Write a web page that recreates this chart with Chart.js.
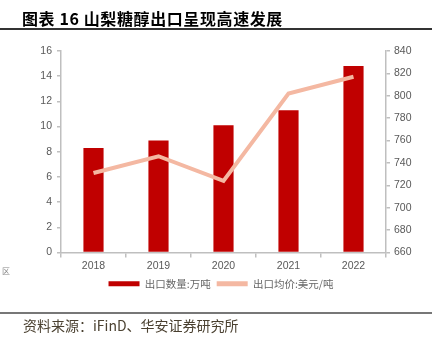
<!DOCTYPE html>
<html><head><meta charset="utf-8">
<script src="https://cdn.jsdelivr.net/npm/chart.js@4/dist/chart.umd.min.js"></script>
<style>
html,body{margin:0;padding:0;background:#fff;}
#wrap{position:relative;width:442px;height:346px;overflow:hidden;}
#title{position:absolute;left:22px;top:6px;font-family:"Noto Sans CJK SC";font-weight:bold;font-size:16px;color:#000;letter-spacing:0.6px;white-space:nowrap;}
#l1{position:absolute;left:0;top:28px;width:432px;height:1.5px;background:#333;}
#l2{position:absolute;left:0;top:312px;width:432px;height:1.5px;background:#777;}
#src{position:absolute;left:23px;top:315px;font-family:"Noto Sans CJK SC";font-size:14px;color:#4a4030;white-space:nowrap;}
#qu{position:absolute;left:2px;top:265px;font-family:"Noto Sans CJK SC";font-size:8px;color:#888;}
canvas{position:absolute;left:0;top:0;}
</style></head><body>
<div id="wrap">
<canvas id="c" width="442" height="346"></canvas>
<div id="title">图表 16 山梨糖醇出口呈现高速发展</div>
<div id="l1"></div>
<div id="qu">区</div>
<div id="l2"></div>
<div id="src">资料来源：iFinD、华安证券研究所</div>
</div>
<script>
const categories = ['2018','2019','2020','2021','2022'];
const exportVolume = [8.3, 8.9, 10.1, 11.3, 14.8];
const exportPrice = [731, 746, 724, 802, 817];
const leftTicks = [0,2,4,6,8,10,12,14,16];
const rightTicks = [660,680,700,720,740,760,780,800,820,840];

const tickFont = {family:'"Liberation Sans", Arial', size:10.5};
const axisColor = '#bfbfbf';
new Chart(document.getElementById('c'), {
  data: {
    labels: categories,
    datasets: [
      {type:'line', label:'出口均价:美元/吨', data:exportPrice, yAxisID:'y1',
       borderColor:'#f4b8a2', backgroundColor:'#f4b8a2', borderWidth:4, pointRadius:0, tension:0, order:0},
      {type:'bar', label:'出口数量:万吨', data:exportVolume, yAxisID:'y',
       backgroundColor:'#c00000', borderColor:'#c00000', borderWidth:0,
       categoryPercentage:1, barPercentage:0.31, order:1}
    ]
  },
  options: {
    responsive:false, animation:false,
    layout:{padding:{left:0,right:0,top:51,bottom:47}},
    plugins:{
      tooltip:{enabled:false},
      legend:{position:'bottom', reverse:true,
        labels:{boxWidth:31, boxHeight:5, padding:6,
          font:{family:'"Noto Sans CJK SC"', size:10.5}, color:'#666',
          generateLabels(chart){
            const items = Chart.defaults.plugins.legend.labels.generateLabels(chart);
            items.forEach(it=>{it.lineWidth=0;});
            return items;
          }}}
    },
    scales:{
      x:{offset:true,
         grid:{display:true, offset:true, drawOnChartArea:false, tickLength:5, color:axisColor, lineWidth:1.5},
         border:{color:axisColor, width:1.5},
         ticks:{font:tickFont, color:'#595959', padding:2},
         afterFit(s){s.height=20;}},
      y:{position:'left', min:0, max:16,
         afterBuildTicks(s){s.ticks = leftTicks.map(v=>({value:v}));},
         grid:{drawOnChartArea:false, tickLength:4, color:axisColor, lineWidth:1.5},
         border:{color:axisColor, width:1.5},
         ticks:{font:tickFont, color:'#595959', padding:5},
         afterFit(s){s.width=61;}},
      y1:{position:'right', min:660, max:840,
         afterBuildTicks(s){s.ticks = rightTicks.map(v=>({value:v}));},
         grid:{drawOnChartArea:false, tickLength:4, color:axisColor, lineWidth:1.5},
         border:{color:axisColor, width:1.5},
         ticks:{font:tickFont, color:'#595959', padding:4},
         afterFit(s){s.width=56;}}
    }
  }
});
</script>
</body></html>
